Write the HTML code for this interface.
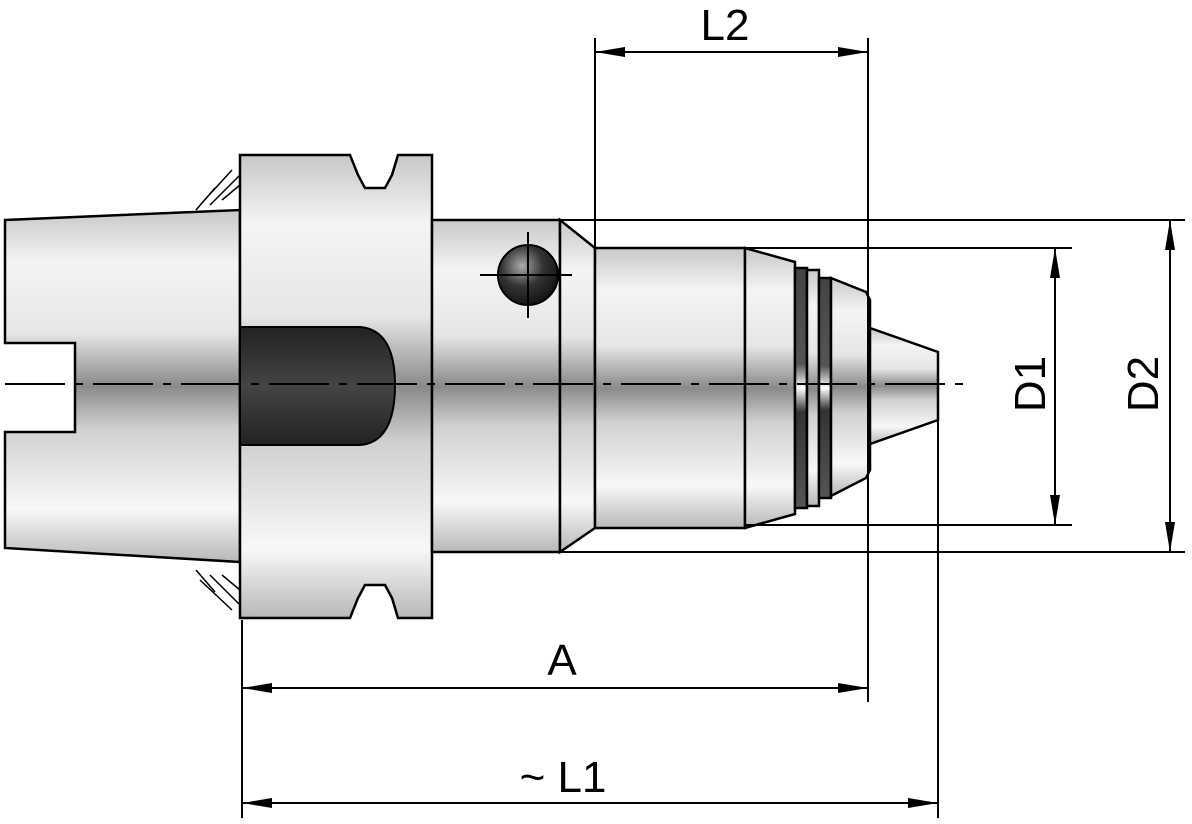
<!DOCTYPE html>
<html><head><style>html,body{margin:0;padding:0;background:#fff}svg{display:block}</style></head>
<body>
<svg width="1192" height="824" viewBox="0 0 1192 824" xmlns="http://www.w3.org/2000/svg">
<defs>
<linearGradient id="m" x1="0" y1="0" x2="0" y2="1">
<stop offset="0" stop-color="#c8c8c8"/><stop offset="0.15" stop-color="#f4f4f4"/><stop offset="0.35" stop-color="#e6e6e6"/><stop offset="0.5" stop-color="#8a8a8a"/><stop offset="0.62" stop-color="#d0d0d0"/><stop offset="0.85" stop-color="#f8f8f8"/><stop offset="1" stop-color="#b8b8b8"/>
</linearGradient>
<linearGradient id="ring" x1="0" y1="0" x2="0" y2="1">
<stop offset="0" stop-color="#444"/><stop offset="0.4" stop-color="#555"/><stop offset="0.5" stop-color="#fff"/><stop offset="0.6" stop-color="#333"/><stop offset="1" stop-color="#555"/>
</linearGradient>
<radialGradient id="ball" cx="0.4" cy="0.35" r="0.7"><stop offset="0" stop-color="#aaa"/><stop offset="0.5" stop-color="#333"/><stop offset="1" stop-color="#111"/></radialGradient>
<linearGradient id="dk" x1="0" y1="0" x2="0" y2="1"><stop offset="0" stop-color="#222"/><stop offset="0.5" stop-color="#444"/><stop offset="1" stop-color="#222"/></linearGradient>
<marker id="ar" markerWidth="30" markerHeight="10" refX="30" refY="5" orient="auto" markerUnits="userSpaceOnUse"><path d="M0,0 L30,5 L0,10 Z" fill="#000"/></marker>
</defs>
<g stroke="#000" stroke-width="2.5" fill="url(#m)">
<!-- shank -->
<path d="M5,220 L240,210 L240,562 L5,548 L5,432 L75,432 L75,343 L5,343 Z"/>
<!-- flange -->
<path d="M240,155 L350,155 L358,175 L365,188 L385,188 L392,175 L398,155 L432,155 L432,618 L398,618 L392,598 L385,585 L365,585 L358,598 L350,618 L240,618 Z"/>
<!-- body -->
<path d="M432,220 L560,220 L560,552 L432,552 Z"/>
<path d="M560,220 L595,248 L595,528 L560,552 Z"/>
<!-- chuck -->
<path d="M595,248 L745,248 L745,528 L595,528 Z"/>
<path d="M745,248 L795,262 L795,514 L745,528 Z"/>
<rect x="795" y="268" width="12" height="240" fill="url(#ring)"/>
<rect x="807" y="270" width="12" height="236"/>
<rect x="819" y="278" width="12" height="220" fill="url(#ring)"/>
<path d="M831,278 L866,292 L870,300 L870,470 L866,478 L831,496 Z"/>
<!-- jaws -->
<path d="M870,328 L938,352 L938,420 L870,444 Z"/>
</g>
<!-- dark slot -->
<path d="M240,327 L360,327 Q395,330 395,385 Q395,442 360,445 L240,445 Z" fill="url(#dk)" stroke="#000" stroke-width="2"/>
<!-- hatches -->
<g stroke="#000" stroke-width="1.5">
<path d="M200,205 L232,170 M210,205 L240,175 M222,200 L240,185 M196,210 L215,188"/>
<path d="M200,580 L232,610 M210,575 L240,605 M222,575 L240,590 M196,570 L215,592"/>
</g>
<!-- ball -->
<circle cx="528" cy="275" r="30" fill="url(#ball)" stroke="#000" stroke-width="2"/>
<g stroke="#000" stroke-width="2">
<line x1="480" y1="275" x2="572" y2="275"/><line x1="528" y1="232" x2="528" y2="318"/>
</g>
<!-- centerline -->
<line x1="5" y1="384" x2="968" y2="384" stroke="#000" stroke-width="2" stroke-dasharray="60,10,8,10"/>
<!-- dims -->
<g stroke="#000" stroke-width="2" fill="none">
<line x1="595" y1="38" x2="595" y2="248"/>
<line x1="868" y1="38" x2="868" y2="702"/>
<line x1="242" y1="620" x2="242" y2="818"/>
<line x1="938" y1="420" x2="938" y2="818"/>
<line x1="745" y1="248" x2="1072" y2="248"/>
<line x1="745" y1="525" x2="1072" y2="525"/>
<line x1="560" y1="220" x2="1185" y2="220"/>
<line x1="560" y1="552" x2="1185" y2="552"/>
<line x1="690" y1="52" x2="595" y2="52" marker-end="url(#ar)"/>
<line x1="690" y1="52" x2="868" y2="52" marker-end="url(#ar)"/>
<line x1="550" y1="688" x2="242" y2="688" marker-end="url(#ar)"/>
<line x1="550" y1="688" x2="868" y2="688" marker-end="url(#ar)"/>
<line x1="550" y1="803" x2="242" y2="803" marker-end="url(#ar)"/>
<line x1="550" y1="803" x2="938" y2="803" marker-end="url(#ar)"/>
<line x1="1055" y1="384" x2="1055" y2="248" marker-end="url(#ar)"/>
<line x1="1055" y1="384" x2="1055" y2="525" marker-end="url(#ar)"/>
<line x1="1170" y1="384" x2="1170" y2="220" marker-end="url(#ar)"/>
<line x1="1170" y1="384" x2="1170" y2="552" marker-end="url(#ar)"/>
</g>
<g font-family="Liberation Sans, sans-serif" font-size="44" fill="#000">
<text x="725" y="40" text-anchor="middle">L2</text>
<text x="562" y="675" text-anchor="middle">A</text>
<text x="563" y="792" text-anchor="middle">~ L1</text>
<text transform="translate(1045,384) rotate(-90)" text-anchor="middle">D1</text>
<text transform="translate(1158,384) rotate(-90)" text-anchor="middle">D2</text>
</g>
</svg>
</body></html>
